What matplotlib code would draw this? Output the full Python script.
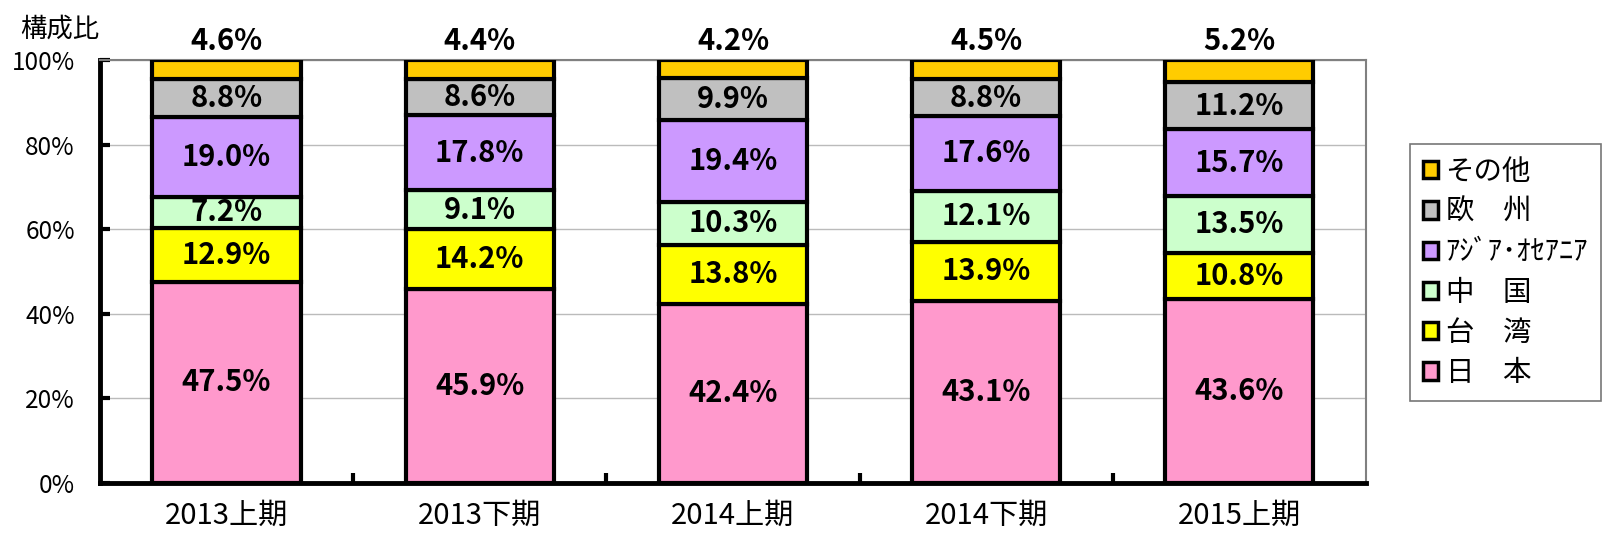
import numpy as np
import matplotlib
matplotlib.use("Agg")
import matplotlib.pyplot as plt

plt.rcParams['font.family'] = ['Noto Sans CJK JP', 'DejaVu Sans']

# ------------------------------
# Daten
# ------------------------------
periods = ["2013上期", "2013下期", "2014上期", "2014下期", "2015上期"]
regions = ["日　本", "台　湾", "中　国", "ｱｼﾞｱ･ｵｾｱﾆｱ", "欧　州", "その他"]
japan = [47.5, 45.9, 42.4, 43.1, 43.6]
taiwan = [12.9, 14.2, 13.8, 13.9, 10.8]
china = [7.2, 9.1, 10.3, 12.1, 13.5]
asia_oceania = [19.0, 17.8, 19.4, 17.6, 15.7]
europe = [8.8, 8.6, 9.9, 8.8, 11.2]
other = [4.6, 4.4, 4.2, 4.5, 5.2]
colors = ["#FF99CC", "#FFFF00", "#CCFFCC", "#CC99FF", "#C0C0C0", "#FFCC00"]

series = [japan, taiwan, china, asia_oceania, europe, other]

# ------------------------------
# Plot
# ------------------------------
fig = plt.figure(figsize=(16.07, 5.36), dpi=100)
ax = fig.add_axes([0.0622, 0.099, 0.7878, 0.789])

x = np.arange(len(periods))
bottom = np.zeros(len(periods))
handles = []
for i, (vals, col, name) in enumerate(zip(series, colors, regions)):
    vals = np.array(vals)
    bars = ax.bar(x, vals, bottom=bottom, width=0.585, color=col,
                  edgecolor='black', linewidth=3, label=name, zorder=3)
    handles.append(bars)
    for xi, b, v in zip(x, bottom, vals):
        if i == len(series) - 1:
            ax.text(xi, 104.6, f"{v:.1f}%", ha='center', va='center',
                    fontsize=21, fontweight='bold')
        else:
            ax.text(xi, b + v / 2, f"{v:.1f}%", ha='center', va='center',
                    fontsize=21, fontweight='bold', zorder=4)
    bottom += vals

ax.set_xlim(-0.5, len(periods) - 0.5)
ax.set_ylim(0, 100)
ax.set_yticks(np.arange(0, 101, 20))
ax.set_yticklabels([f"{v}%" for v in range(0, 101, 20)], fontsize=17.5)
ax.set_xticks(x)
ax.set_xticklabels(periods, fontsize=21)
ax.tick_params(axis='x', length=0, pad=13)
ax.set_xticks(np.arange(0.5, len(periods) - 0.5, 1), minor=True)
ax.tick_params(axis='x', which='minor', direction='in', length=7, width=3)
ax.tick_params(axis='y', direction='in', length=7, width=3, pad=18)
ax.grid(axis='y', color='#BBBBBB', linewidth=1, zorder=0)

for s in ['left', 'bottom']:
    ax.spines[s].set_linewidth(3.5)
    ax.spines[s].set_color('black')
for s in ['top', 'right']:
    ax.spines[s].set_linewidth(1.5)
    ax.spines[s].set_color('#808080')

fig.text(0.037, 0.945, "構成比", fontsize=19, ha='center', va='center')

leg = fig.legend(handles[::-1], regions[::-1], loc='upper left',
                 bbox_to_anchor=(0.8685, 0.758), fontsize=20.5,
                 frameon=True, fancybox=False, edgecolor='#555555',
                 handlelength=0.55, handleheight=0.55, handletextpad=0.25,
                 labelspacing=0.36, borderpad=0.45)
leg.get_frame().set_linewidth(1.2)
for h in leg.legend_handles:
    h.set_linewidth(2.5)

fig.savefig("out.png", dpi=100)
